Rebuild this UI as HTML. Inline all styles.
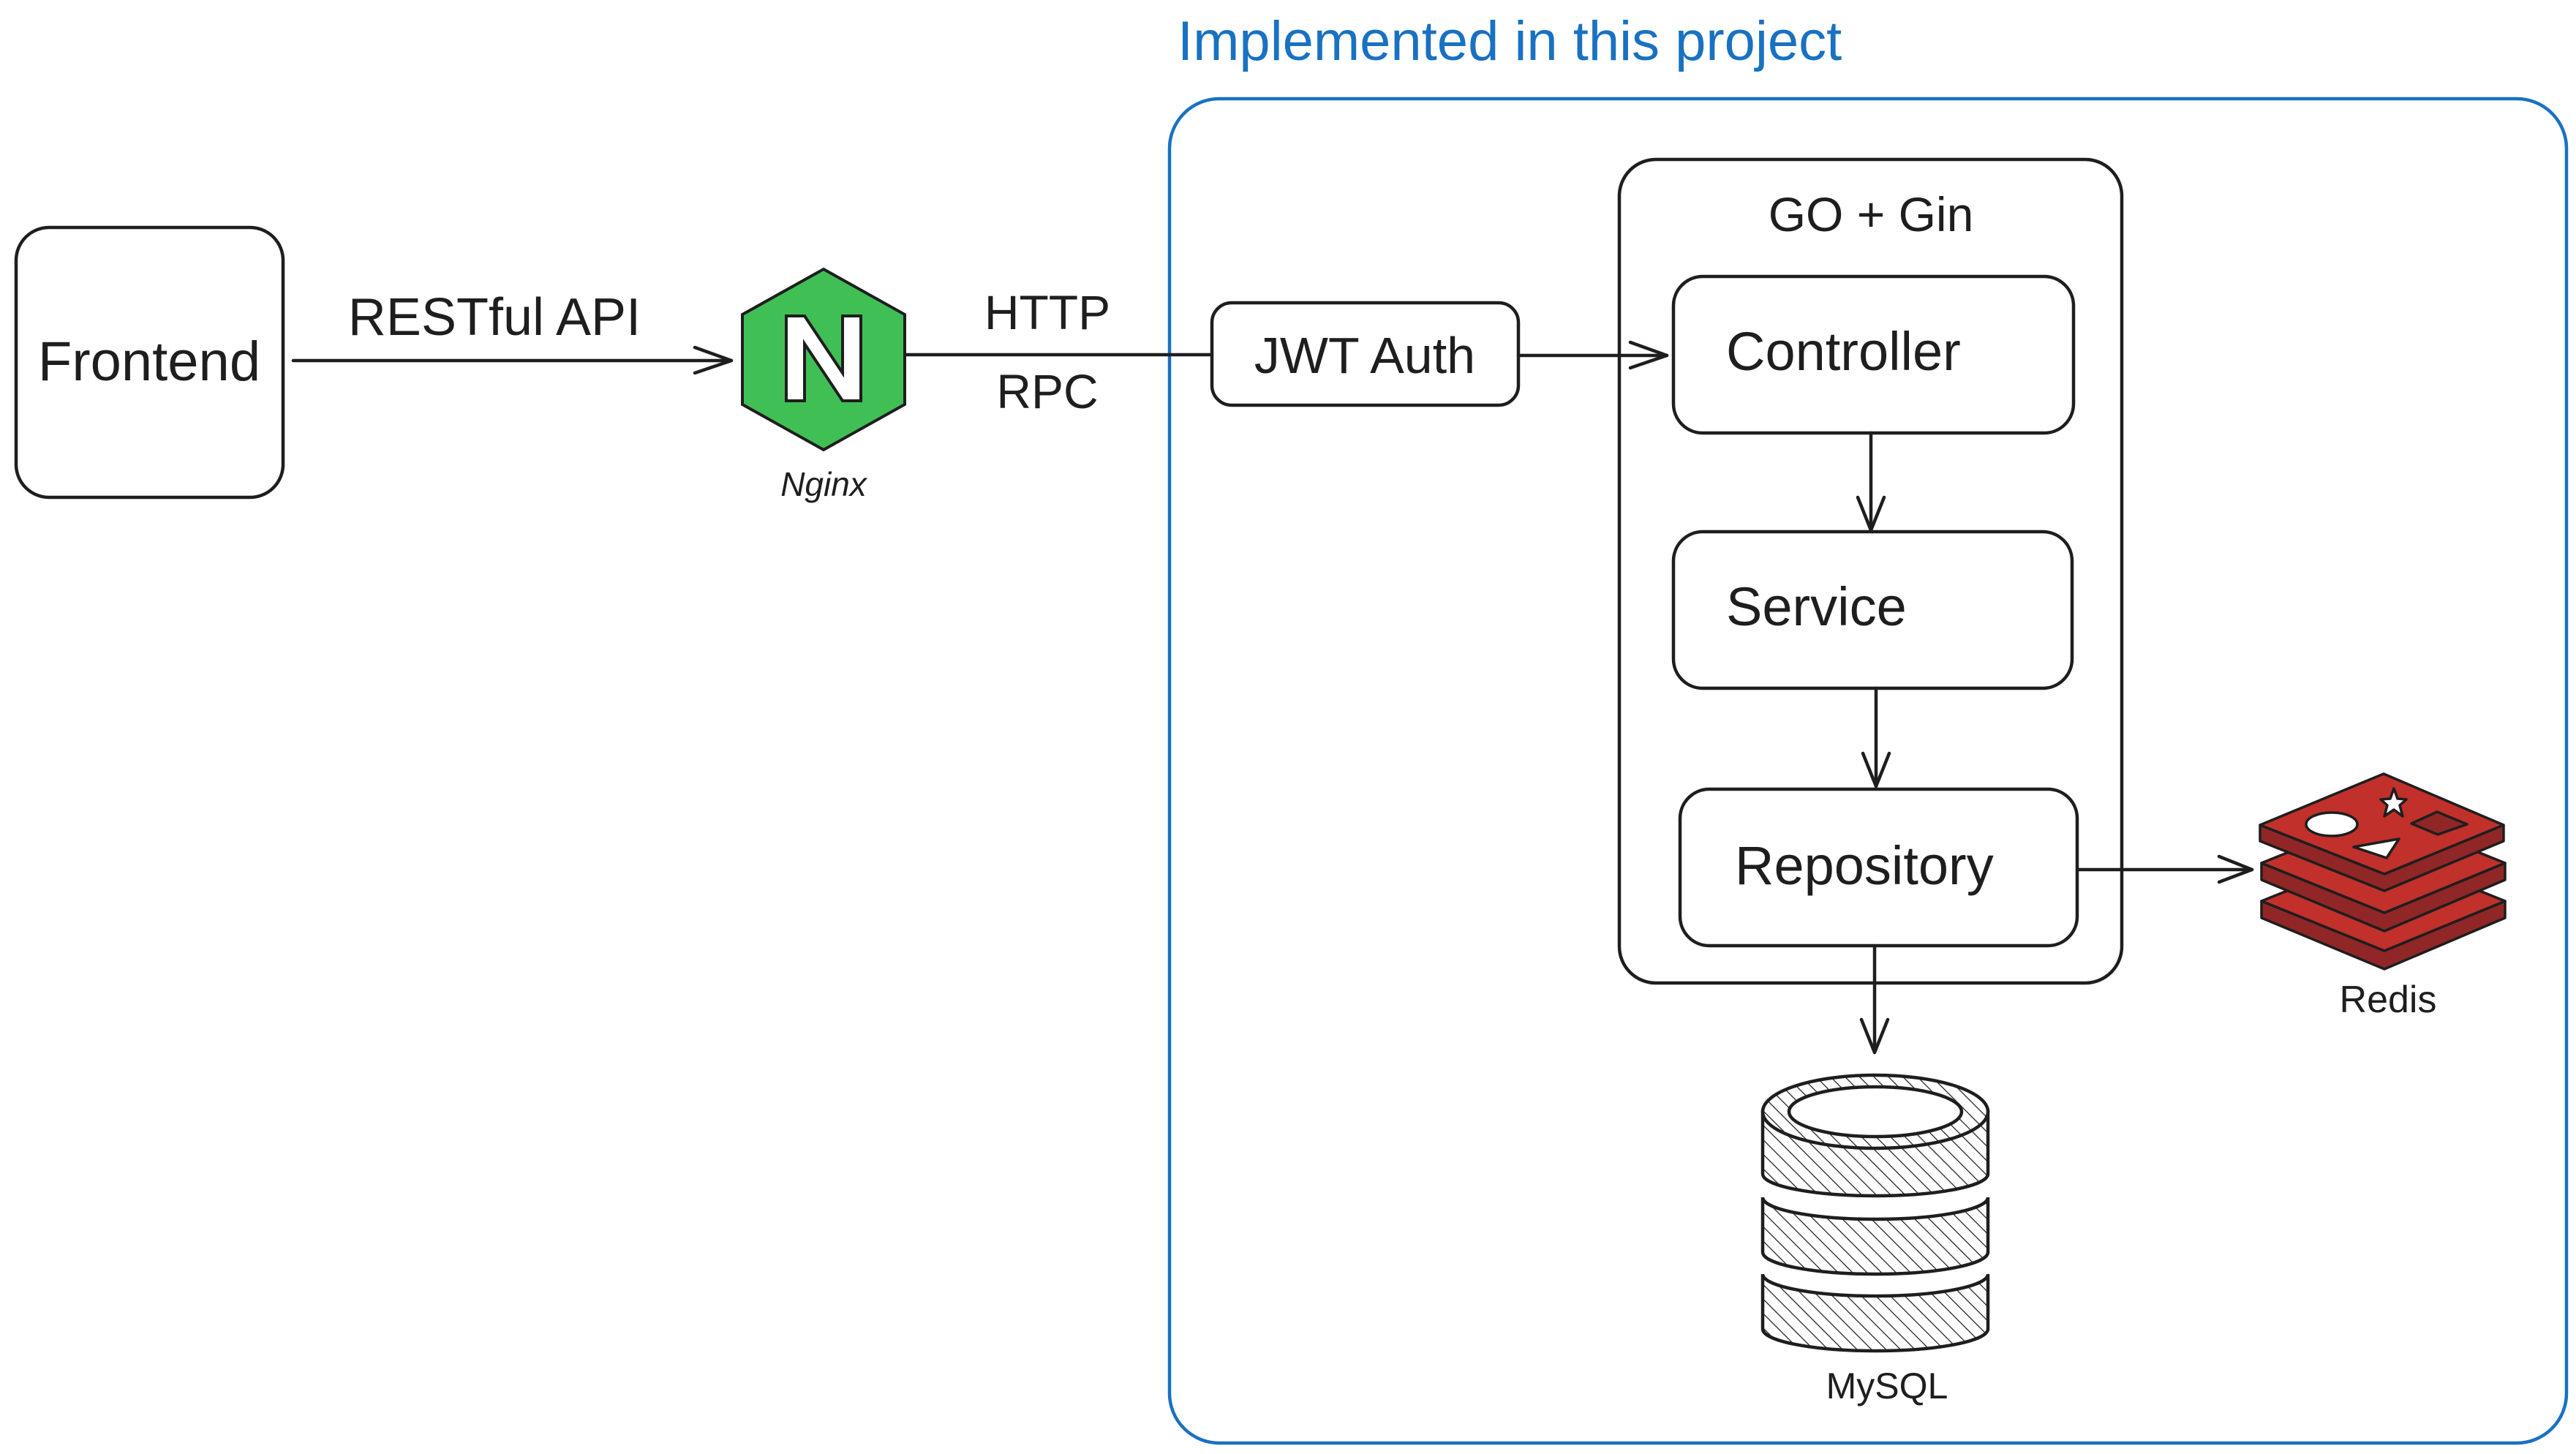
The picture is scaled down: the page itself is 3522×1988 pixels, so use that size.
<!DOCTYPE html>
<html><head><meta charset="utf-8"><style>
html,body{margin:0;padding:0;background:#fff}
svg{display:block}
text{font-family:"Liberation Sans",sans-serif;fill:#1e1e1e}
</style></head><body>
<svg width="3522" height="1988" viewBox="0 0 3522 1988" xmlns="http://www.w3.org/2000/svg">
<defs>
<pattern id="hatch" patternUnits="userSpaceOnUse" width="14" height="14" patternTransform="rotate(-45)">
<rect width="14" height="14" fill="#fff"/><line x1="0" y1="0" x2="0" y2="14" stroke="#1e1e1e" stroke-width="2.5"/>
</pattern>
</defs>
<g fill="none" stroke="#1e1e1e" stroke-width="4.5" stroke-linecap="round" stroke-linejoin="round">
<rect x="1599" y="135" width="1910" height="1838" rx="68" stroke="#1971c2"/>
<rect x="22" y="311" width="365" height="369" rx="45"/>
<line x1="401" y1="493" x2="1000" y2="493"/>
<polyline points="950,475 1000,493 950,510"/>
<line x1="1239" y1="485" x2="1657" y2="485"/>
<rect x="1657" y="414" width="419" height="140" rx="27"/>
<line x1="2076" y1="486" x2="2279" y2="486"/>
<polyline points="2229,468 2279,486 2229,503"/>
<rect x="2214" y="218" width="687" height="1126" rx="50"/>
<rect x="2288" y="378" width="547" height="214" rx="40"/>
<rect x="2288" y="727" width="545" height="214" rx="40"/>
<rect x="2297" y="1079" width="543" height="214" rx="40"/>
<line x1="2558" y1="592" x2="2558" y2="725"/>
<polyline points="2540,680 2558,725 2576,680"/>
<line x1="2565" y1="941" x2="2565" y2="1075"/>
<polyline points="2547,1030 2565,1075 2583,1030"/>
<line x1="2563" y1="1293" x2="2563" y2="1439"/>
<polyline points="2545,1394 2563,1439 2581,1394"/>
<line x1="2840" y1="1189" x2="3079" y2="1189"/>
<polyline points="3034,1171 3079,1189 3034,1206"/>
</g>
<polygon points="1126,368 1237,430 1237,553 1126,615 1015,553 1015,430" fill="#40bf55" stroke="#1e1e1e" stroke-width="4"/>
<path d="M1075,548 L1075,432 L1100,432 L1152,510 L1152,432 L1177,432 L1177,548 L1152,548 L1100,470 L1100,548 Z" fill="#fff" stroke="#1e1e1e" stroke-width="4"/>
<g stroke="#1e1e1e" stroke-width="4.5" fill="url(#hatch)">
<path d="M2410,1742 v75 a154,30 0 0 0 308,0 v-75 a154,30 0 0 1 -308,0 Z"/>
<path d="M2410,1637 v75 a154,30 0 0 0 308,0 v-75 a154,30 0 0 1 -308,0 Z"/>
<path d="M2410,1520 v85 a154,30 0 0 0 308,0 v-85 Z"/>
<ellipse cx="2564" cy="1520" rx="154" ry="50"/>
<ellipse cx="2564" cy="1520" rx="118" ry="34" fill="#fff"/>
</g>
<g stroke="#1e1e1e" stroke-width="3.5" stroke-linejoin="round">
<path d="M3092,1232 L3260,1300 L3425,1232 L3425,1255 L3260,1325 L3092,1255 Z" fill="#912626"/>
<path d="M3092,1232 L3259,1165 L3425,1232 L3260,1300 Z" fill="#c1302b"/>
<path d="M3092,1180 L3260,1248 L3425,1180 L3425,1203 L3260,1273 L3092,1203 Z" fill="#912626"/>
<path d="M3092,1180 L3259,1113 L3425,1180 L3260,1248 Z" fill="#c1302b"/>
<path d="M3090,1128 L3260,1195 L3423,1128 L3423,1150 L3260,1218 L3090,1150 Z" fill="#912626"/>
<path d="M3090,1128 L3259,1058 L3423,1128 L3260,1195 Z" fill="#c1302b"/>
<ellipse cx="3188" cy="1127" rx="35" ry="16" fill="#fff"/>
<polygon points="3218,1158 3280,1147 3263,1173" fill="#fff"/>
<polygon points="3273,1078 3278,1092 3290,1093 3281,1101 3285,1116 3273,1107 3260,1116 3264,1101 3255,1093 3268,1092" fill="#fff"/>
<polygon points="3297,1126 3332,1110 3373,1127 3333,1141" fill="#912626"/>
</g>
<text x="1610" y="82" font-size="76" style="fill:#1971c2">Implemented in this project</text>
<text x="204" y="520" font-size="76" text-anchor="middle">Frontend</text>
<text x="676" y="458" font-size="72" text-anchor="middle">RESTful API</text>
<text x="1126" y="678" font-size="46" text-anchor="middle" font-style="italic">Nginx</text>
<text x="1432" y="450" font-size="66" text-anchor="middle">HTTP</text>
<text x="1432" y="558" font-size="66" text-anchor="middle">RPC</text>
<text x="1866" y="510" font-size="70" text-anchor="middle">JWT Auth</text>
<text x="2558" y="316" font-size="66" text-anchor="middle">GO + Gin</text>
<text x="2360" y="506" font-size="74">Controller</text>
<text x="2360" y="855" font-size="74">Service</text>
<text x="2372" y="1209" font-size="74">Repository</text>
<text x="2580" y="1912" font-size="50" text-anchor="middle">MySQL</text>
<text x="3265" y="1384" font-size="52" text-anchor="middle">Redis</text>
</svg>
</body></html>
